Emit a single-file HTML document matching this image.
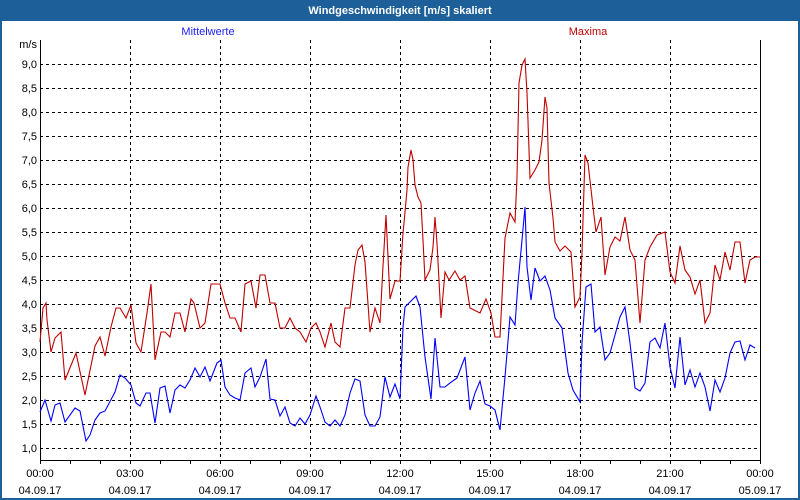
<!DOCTYPE html>
<html><head><meta charset="utf-8"><style>
html,body{margin:0;padding:0;background:#fff}
svg{display:block}
text{font-family:"Liberation Sans","DejaVu Sans",sans-serif;font-size:11px}
</style></head><body>
<svg width="800" height="500" viewBox="0 0 800 500" xmlns="http://www.w3.org/2000/svg">
<rect x="0" y="0" width="800" height="500" fill="#1d5f98"/>
<rect x="2" y="21" width="796" height="477" fill="#fff"/>
<text x="400" y="14" fill="#fff" font-weight="bold" text-anchor="middle">Windgeschwindigkeit [m/s] skaliert</text>
<text x="208" y="35" fill="#2020ff" text-anchor="middle" font-size="10">Mittelwerte</text>
<text x="588" y="35" fill="#c00000" text-anchor="middle" font-size="10">Maxima</text>
<g stroke="#000" stroke-width="1" stroke-dasharray="3,3" fill="none">
<path d="M40 64.5H760M40 88.5H760M40 112.5H760M40 136.5H760M40 160.5H760M40 184.5H760M40 208.5H760M40 232.5H760M40 256.5H760M40 280.5H760M40 304.5H760M40 328.5H760M40 352.5H760M40 376.5H760M40 400.5H760M40 424.5H760M40 448.5H760"/>
<path d="M130.5 40V460M220.5 40V460M310.5 40V460M400.5 40V460M490.5 40V460M580.5 40V460M670.5 40V460"/>
</g>
<g stroke="#000" stroke-width="1" fill="none">
<path d="M40.5 40V460.5H760.5V40"/>
<path d="M40.5 460v4M70.5 460v4M100.5 460v4M130.5 460v4M160.5 460v4M190.5 460v4M220.5 460v4M250.5 460v4M280.5 460v4M310.5 460v4M340.5 460v4M370.5 460v4M400.5 460v4M430.5 460v4M460.5 460v4M490.5 460v4M520.5 460v4M550.5 460v4M580.5 460v4M610.5 460v4M640.5 460v4M670.5 460v4M700.5 460v4M730.5 460v4M760.5 460v4"/>
</g>
<g fill="#000" text-anchor="end" font-size="10">
<text x="37" y="48">m/s</text>
<text x="37" y="68">9,0</text><text x="37" y="92">8,5</text><text x="37" y="116">8,0</text><text x="37" y="140">7,5</text><text x="37" y="164">7,0</text><text x="37" y="188">6,5</text><text x="37" y="212">6,0</text><text x="37" y="236">5,5</text><text x="37" y="260">5,0</text><text x="37" y="284">4,5</text><text x="37" y="308">4,0</text><text x="37" y="332">3,5</text><text x="37" y="356">3,0</text><text x="37" y="380">2,5</text><text x="37" y="404">2,0</text><text x="37" y="428">1,5</text><text x="37" y="452">1,0</text>
</g>
<g fill="#000" text-anchor="middle" font-size="10">
<text x="40" y="477">00:00</text><text x="40" y="494">04.09.17</text>
<text x="130" y="477">03:00</text><text x="130" y="494">04.09.17</text>
<text x="220" y="477">06:00</text><text x="220" y="494">04.09.17</text>
<text x="310" y="477">09:00</text><text x="310" y="494">04.09.17</text>
<text x="400" y="477">12:00</text><text x="400" y="494">04.09.17</text>
<text x="490" y="477">15:00</text><text x="490" y="494">04.09.17</text>
<text x="580" y="477">18:00</text><text x="580" y="494">04.09.17</text>
<text x="670" y="477">21:00</text><text x="670" y="494">04.09.17</text>
<text x="760" y="477">00:00</text><text x="760" y="494">05.09.17</text>
</g>
<polyline fill="none" stroke="#c00000" stroke-width="1.1" points="40,342 43,308 46,303 47,320 51,352 55,338 61,332 65,380 76,353 85,395 95,346 100,337 105,356 111,327 116,308 120,308 126,318 131,305 136,343 141,352 147,313 151,284 155,360 161,332 165,332 170,337 175,313 180,313 185,332 191,299 194,303 200,328 205,323 211,284 220,284 225,303 230,318 235,318 241,332 245,284 251,281 256,308 260,275 265,275 270,303 275,303 280,328 285,328 290,318 295,328 300,332 306,342 311,328 316,323 320,332 325,347 331,323 335,342 340,347 345,308 350,308 355,265 358,250 362,245 365,262 370,332 375,308 380,323 383,266 386,215 390,299 395,281 400,281 403,233 404,223 407,190 408,167 411,150 413,160 415,185 418,197 421,203 423,240 425,280 430,270 433,247 435,217 437,243 441,318 445,272 449,280 455,271 460,280 465,276 470,308 480,313 486,299 491,313 495,337 500,337 505,238 510,213 515,222 517,177 519,83 522,65 525,59 527,93 530,178 535,170 539,162 542,140 545,97 547,108 549,183 553,218 555,242 560,251 565,246 571,252 575,307 580,297 582,253 585,155 588,163 593,207 596,232 601,217 605,275 610,247 615,237 620,241 625,217 630,250 635,260 640,323 645,260 650,247 657,235 665,232 670,272 675,283 680,246 685,270 690,277 695,294 700,280 705,323 710,313 715,265 720,280 725,252 730,270 735,242 740,242 745,283 750,260 755,257 760,257"/>
<polyline fill="none" stroke="#0000ff" stroke-width="1.1" points="40,412 45,400 51,421 55,405 60,403 65,422 75,408 80,411 86,441 90,435 95,420 100,413 105,411 115,392 120,375 125,378 131,385 136,403 140,406 146,393 150,393 155,423 160,388 165,386 170,413 175,390 180,385 185,388 190,380 195,368 200,377 205,367 210,381 217,363 221,360 225,387 230,395 235,398 240,400 245,373 251,368 255,387 260,377 266,359 270,399 275,400 280,416 285,407 290,423 295,426 300,418 305,424 310,415 316,396 320,407 325,422 330,426 335,420 340,426 345,415 350,393 355,379 360,381 365,415 370,426 375,426 380,417 385,377 390,397 395,384 400,399 403,327 405,307 410,302 416,296 420,307 425,357 431,399 435,338 440,387 445,387 450,383 457,378 465,357 470,410 475,393 480,381 485,404 490,406 495,410 500,430 505,377 510,317 515,325 518,283 522,240 525,207 527,267 531,300 535,268 540,281 545,276 550,290 555,318 562,328 568,373 573,390 580,402 582,343 586,287 591,284 595,332 600,327 605,360 610,353 615,335 620,317 625,307 630,343 635,388 640,391 645,383 650,342 655,338 660,348 665,323 670,367 675,388 680,337 685,385 690,370 695,387 700,373 705,387 710,411 715,380 720,392 725,378 730,353 735,342 740,341 745,360 750,345 755,348"/>
</svg>
</body></html>
